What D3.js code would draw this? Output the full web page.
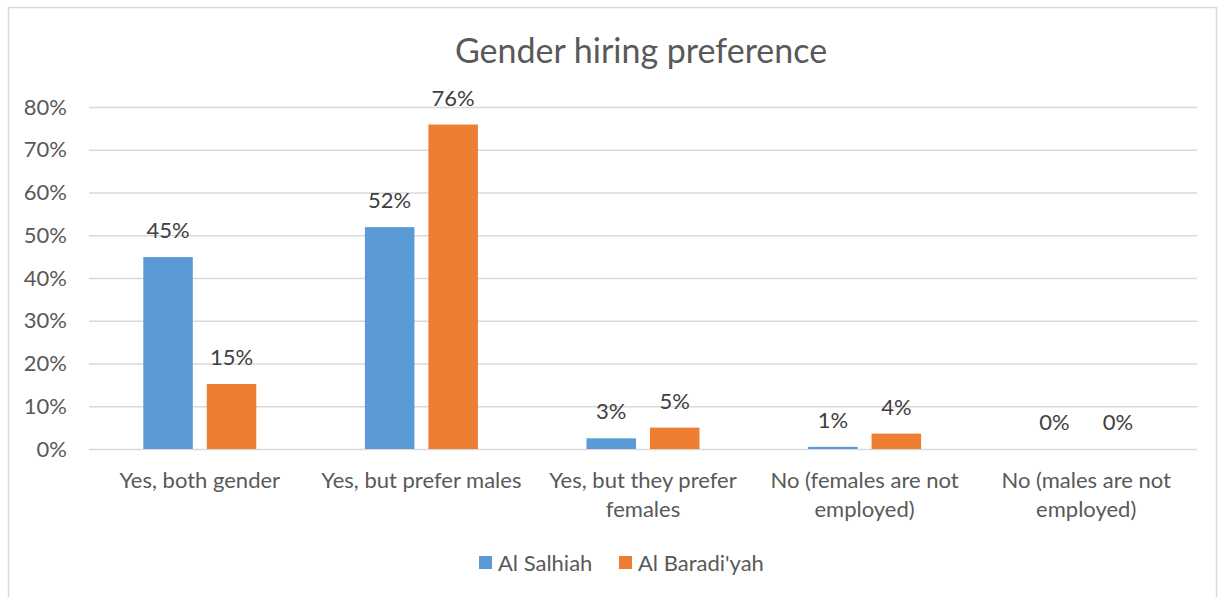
<!DOCTYPE html>
<html>
<head>
<meta charset="utf-8">
<script src="https://cdn.jsdelivr.net/npm/d3@7"></script>
<style>
  body { margin: 0; background: #fff; }
  text { font-family: Lato, "Open Sans", sans-serif; }
</style>
</head>
<body>
<svg id="chart"></svg>
<script>
// Chart data
const categories = [
  ["Yes, both gender"],
  ["Yes, but prefer males"],
  ["Yes, but they prefer", "females"],
  ["No (females are not", "employed)"],
  ["No (males are not", "employed)"]
];
const seriesNames = ["Al Salhiah", "Al Baradi'yah"];
const salhiah = [0.449, 0.519, 0.025, 0.005, 0];
const baradiyah = [0.152, 0.759, 0.050, 0.036, 0];
const salhiahLabels = ["45%", "52%", "3%", "1%", "0%"];
const baradiyahLabels = ["15%", "76%", "5%", "4%", "0%"];
const yTicks = [0, 0.1, 0.2, 0.3, 0.4, 0.5, 0.6, 0.7, 0.8];
const colors = ["#5b9bd5", "#ed7d31"];

const W = 1221, H = 597;
const svg = d3.select("#chart").attr("width", W).attr("height", H);

// outer chart border
svg.append("rect")
  .attr("x", 8.5).attr("y", 7.5)
  .attr("width", 1208).attr("height", 600)
  .attr("fill", "#fff")
  .attr("stroke", "#d9d9d9")
  .attr("stroke-width", 1.5);

const margin = { top: 107, left: 89, right: 24, bottom: 148 };
const width = W - margin.left - margin.right;
const height = H - margin.top - margin.bottom;
const groupW = 113;

const g = svg.append("g").attr("transform", `translate(${margin.left},${margin.top})`);

const x = d3.scaleBand().domain(d3.range(categories.length)).range([0, width]);
const x1 = d3.scaleBand().domain([0, 1]).range([0, groupW]).paddingInner(0.22);
const y = d3.scaleLinear().domain([0, 0.8]).range([height, 0]);

// gridlines + y axis labels
const yAxis = g.append("g")
  .call(d3.axisLeft(y).tickValues(yTicks).tickFormat(d3.format(".0%")).tickSize(-width).tickPadding(22));
yAxis.select(".domain").remove();
yAxis.selectAll(".tick line").attr("stroke", "#d9d9d9").attr("stroke-width", 1.3);
yAxis.selectAll(".tick text").attr("fill", "#595959").style("font-size", "22px");

// bars
const rows = categories.map((c, i) => ({
  i,
  vals: [
    { s: 0, v: salhiah[i], label: salhiahLabels[i] },
    { s: 1, v: baradiyah[i], label: baradiyahLabels[i] }
  ]
}));

const groups = g.selectAll(".grp").data(rows).enter().append("g")
  .attr("transform", d => `translate(${x(d.i) + (x.bandwidth() - groupW) / 2},0)`);

groups.selectAll("rect").data(d => d.vals).enter().append("rect")
  .attr("x", d => x1(d.s))
  .attr("y", d => y(d.v))
  .attr("width", x1.bandwidth())
  .attr("height", d => height - y(d.v))
  .attr("fill", d => colors[d.s]);

groups.selectAll(".lbl").data(d => d.vals).enter().append("text")
  .attr("x", d => x1(d.s) + x1.bandwidth() / 2)
  .attr("y", d => y(d.v) - 19)
  .attr("text-anchor", "middle")
  .attr("fill", "#404040")
  .style("font-size", "22px")
  .text(d => d.label);

// category labels
const catG = g.append("g").attr("transform", `translate(0,${height})`);
categories.forEach((lines, i) => {
  const t = catG.append("text")
    .attr("x", x(i) + x.bandwidth() / 2)
    .attr("y", 39)
    .attr("text-anchor", "middle")
    .attr("fill", "#595959")
    .style("font-size", "22px");
  lines.forEach((ln, k) => {
    t.append("tspan").attr("x", x(i) + x.bandwidth() / 2).attr("dy", k === 0 ? 0 : 29).text(ln);
  });
});

// title
svg.append("text")
  .attr("x", 641).attr("y", 63)
  .attr("text-anchor", "middle")
  .attr("fill", "#595959")
  .style("font-size", "34px")
  .text("Gender hiring preference");

// legend
const legend = svg.append("g").attr("transform", "translate(479,563)");
const legX = [0, 140];
seriesNames.forEach((name, i) => {
  legend.append("rect")
    .attr("x", legX[i]).attr("y", -7)
    .attr("width", 13).attr("height", 13)
    .attr("fill", colors[i]);
  legend.append("text")
    .attr("x", legX[i] + 19).attr("y", 0)
    .attr("dy", "0.35em")
    .attr("fill", "#595959")
    .style("font-size", "22px")
    .text(name);
});
</script>
</body>
</html>
